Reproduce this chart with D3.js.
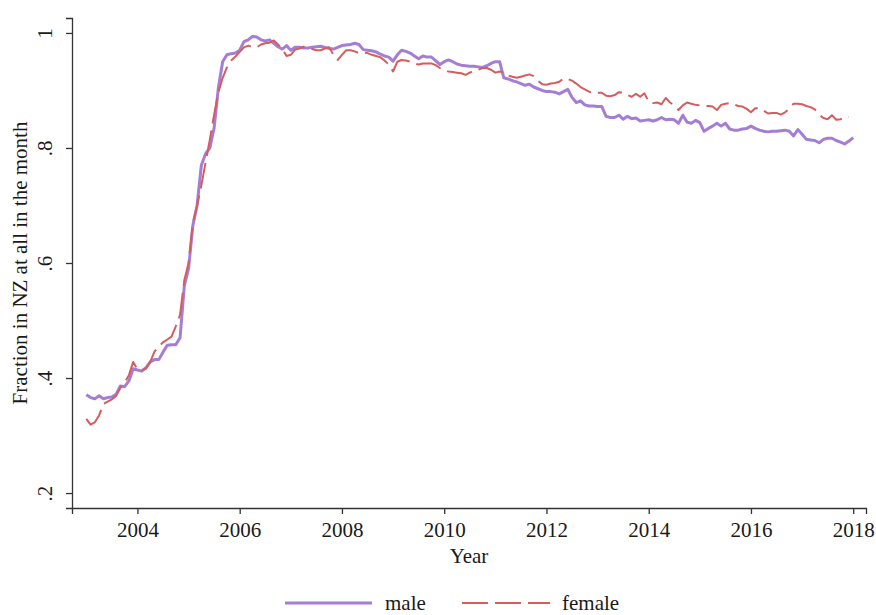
<!DOCTYPE html>
<html>
<head>
<meta charset="utf-8">
<script src="https://cdn.jsdelivr.net/npm/d3@7"></script>
<style>
    body { margin: 0; background: #fff; }
    svg text { font-family: "Liberation Serif", "Times New Roman", serif; fill: #1a1a1a; }
</style>
</head>
<body>
<div id="chart"></div>
<script>
// monthly series, starting January 2003
const startYear = 2003;
const male = [
    .371, .366, .364, .369, .364, .366, .367, .372, .386, .385, .395, .416,
    .414, .412, .418, .428, .432, .432, .445, .457, .458, .458, .470, .560,
    .590, .665, .700, .770, .790, .800, .835, .905, .950, .962, .964, .965,
    .970, .985, .988, .994, .993, .988, .986, .988, .982, .976, .972, .978,
    .970, .975, .975, .974, .974, .975, .976, .977, .975, .973, .972, .975,
    .978, .979, .980, .982, .980, .971, .970, .969, .967, .963, .960, .958,
    .951, .962, .970, .968, .965, .960, .955, .960, .958, .958, .952, .945,
    .950, .953, .950, .946, .944, .943, .942, .942, .941, .940, .943, .947,
    .950, .950, .922, .920, .917, .915, .912, .909, .911, .906, .903, .900,
    .898, .898, .897, .894, .898, .902, .888, .879, .882, .875, .873, .873,
    .872, .872, .855, .853, .853, .857, .850, .855, .851, .852, .847, .848,
    .849, .847, .849, .853, .849, .850, .849, .843, .857, .845, .843, .848,
    .844, .829, .834, .838, .843, .838, .843, .833, .831, .831, .833, .834,
    .838, .834, .831, .829, .828, .829, .829, .830, .831, .829, .821, .832,
    .824, .815, .814, .813, .809, .815, .817, .817, .813, .810, .807, .812,
    .818
];
const female = [
    .329, .319, .323, .335, .355, .359, .363, .369, .383, .392, .405, .428,
    .415, .414, .416, .428, .446, .455, .462, .467, .472, .490, .510, .570,
    .600, .670, .700, .735, .775, .815, .858, .897, .922, .940, .952, .959,
    .967, .975, .978, .976, .975, .980, .982, .983, .987, .980, .972, .960,
    .962, .971, .973, .976, .974, .972, .970, .970, .973, .975, .962, .953,
    .962, .970, .970, .968, .965, .966, .965, .962, .960, .958, .952, .945,
    .933, .950, .953, .952, .950, .947, .945, .947, .947, .947, .944, .939,
    .935, .933, .932, .931, .930, .927, .931, .934, .936, .939, .939, .936,
    .931, .933, .931, .926, .924, .922, .924, .926, .928, .925, .917, .911,
    .910, .912, .913, .915, .921, .920, .917, .912, .906, .902, .898, .895,
    .896, .896, .891, .890, .892, .897, .896, .892, .889, .894, .889, .895,
    .880, .878, .879, .876, .887, .879, .874, .866, .874, .879, .877, .875,
    .874, .873, .873, .872, .866, .875, .877, .878, .876, .873, .872, .868,
    .862, .869, .869, .865, .860, .861, .861, .858, .862, .868, .877, .877,
    .876, .873, .871, .867, .858, .852, .850, .857, .849, .850, .853, .854
];
const yearTicks = [2004, 2006, 2008, 2010, 2012, 2014, 2016, 2018];
const fracTicks = [.2, .4, .6, .8, 1];
const fracLabels = [".2", ".4", ".6", ".8", "1"];
const seriesNames = ["male", "female"];

const width = 876, height = 615;
const margin = {top: 18, right: 10, bottom: 107, left: 72};
const fontSize = "21px";

const svg = d3.select("#chart")
    .append("svg")
    .attr("width", width)
    .attr("height", height);

const x = d3.scaleLinear()
    .domain([2002.72, 2018.25])
    .range([margin.left, width - margin.right]);
const y = d3.scaleLinear()
    .domain([0.174, 1.026])
    .range([height - margin.bottom, margin.top]);

function toPoints(values) {
    return values.map(function (v, i) {
        return {t: startYear + i / 12, v: v};
    });
}

const line = d3.line()
    .x(function (d) { return x(d.t); })
    .y(function (d) { return y(d.v); });

const styles = {
    male: {color: "#a47ed5", width: 3, dash: null},
    female: {color: "#d65c5e", width: 2, dash: "26,7"}
};

// axes
const xAxis = d3.axisBottom(x).tickValues(yearTicks).tickFormat(d3.format("d")).tickSize(6).tickPadding(8);
const yAxis = d3.axisLeft(y).tickValues(fracTicks)
    .tickFormat(function (d, i) { return fracLabels[i]; })
    .tickSize(6).tickPadding(6);

const gx = svg.append("g")
    .attr("transform", `translate(0, ${height - margin.bottom})`)
    .call(xAxis);
const gy = svg.append("g")
    .attr("transform", `translate(${margin.left}, 0)`)
    .call(yAxis);

[gx, gy].forEach(function (g) {
    g.selectAll("path.domain, line").attr("stroke", "#333").attr("stroke-width", 1.3);
    g.selectAll("text").style("font-size", fontSize).attr("fill", "#1a1a1a");
});

// Stata-style vertical y labels
gy.selectAll(".tick text")
    .attr("text-anchor", "middle")
    .attr("x", null)
    .attr("dy", null)
    .attr("transform", "translate(-20, 0) rotate(-90)");

// lines
seriesNames.forEach(function (name) {
    const data = name === "male" ? male : female;
    const s = styles[name];
    svg.append("path")
        .datum(toPoints(data))
        .attr("fill", "none")
        .attr("stroke", s.color)
        .attr("stroke-width", s.width)
        .attr("stroke-linejoin", "round")
        .attr("stroke-dasharray", s.dash)
        .attr("d", line);
});

// titles
svg.append("text")
    .attr("x", (margin.left + width - margin.right) / 2)
    .attr("y", 563)
    .attr("text-anchor", "middle")
    .style("font-size", fontSize)
    .text("Year");

svg.append("text")
    .attr("transform", `translate(27, ${(margin.top + height - margin.bottom) / 2}) rotate(-90)`)
    .attr("text-anchor", "middle")
    .style("font-size", fontSize)
    .text("Fraction in NZ at all in the month");

// legend
const legend = svg.append("g").attr("transform", "translate(285, 603)");
const legendItems = [
    {name: "male", x0: 0, x1: 87, tx: 100},
    {name: "female", x0: 177, x1: 265, tx: 277}
];
legendItems.forEach(function (it) {
    const s = styles[it.name];
    legend.append("line")
        .attr("x1", it.x0).attr("x2", it.x1)
        .attr("y1", 0).attr("y2", 0)
        .attr("stroke", s.color)
        .attr("stroke-width", s.width)
        .attr("stroke-dasharray", s.dash);
    legend.append("text")
        .attr("x", it.tx)
        .attr("y", 7)
        .style("font-size", fontSize)
        .text(it.name);
});
</script>
</body>
</html>
